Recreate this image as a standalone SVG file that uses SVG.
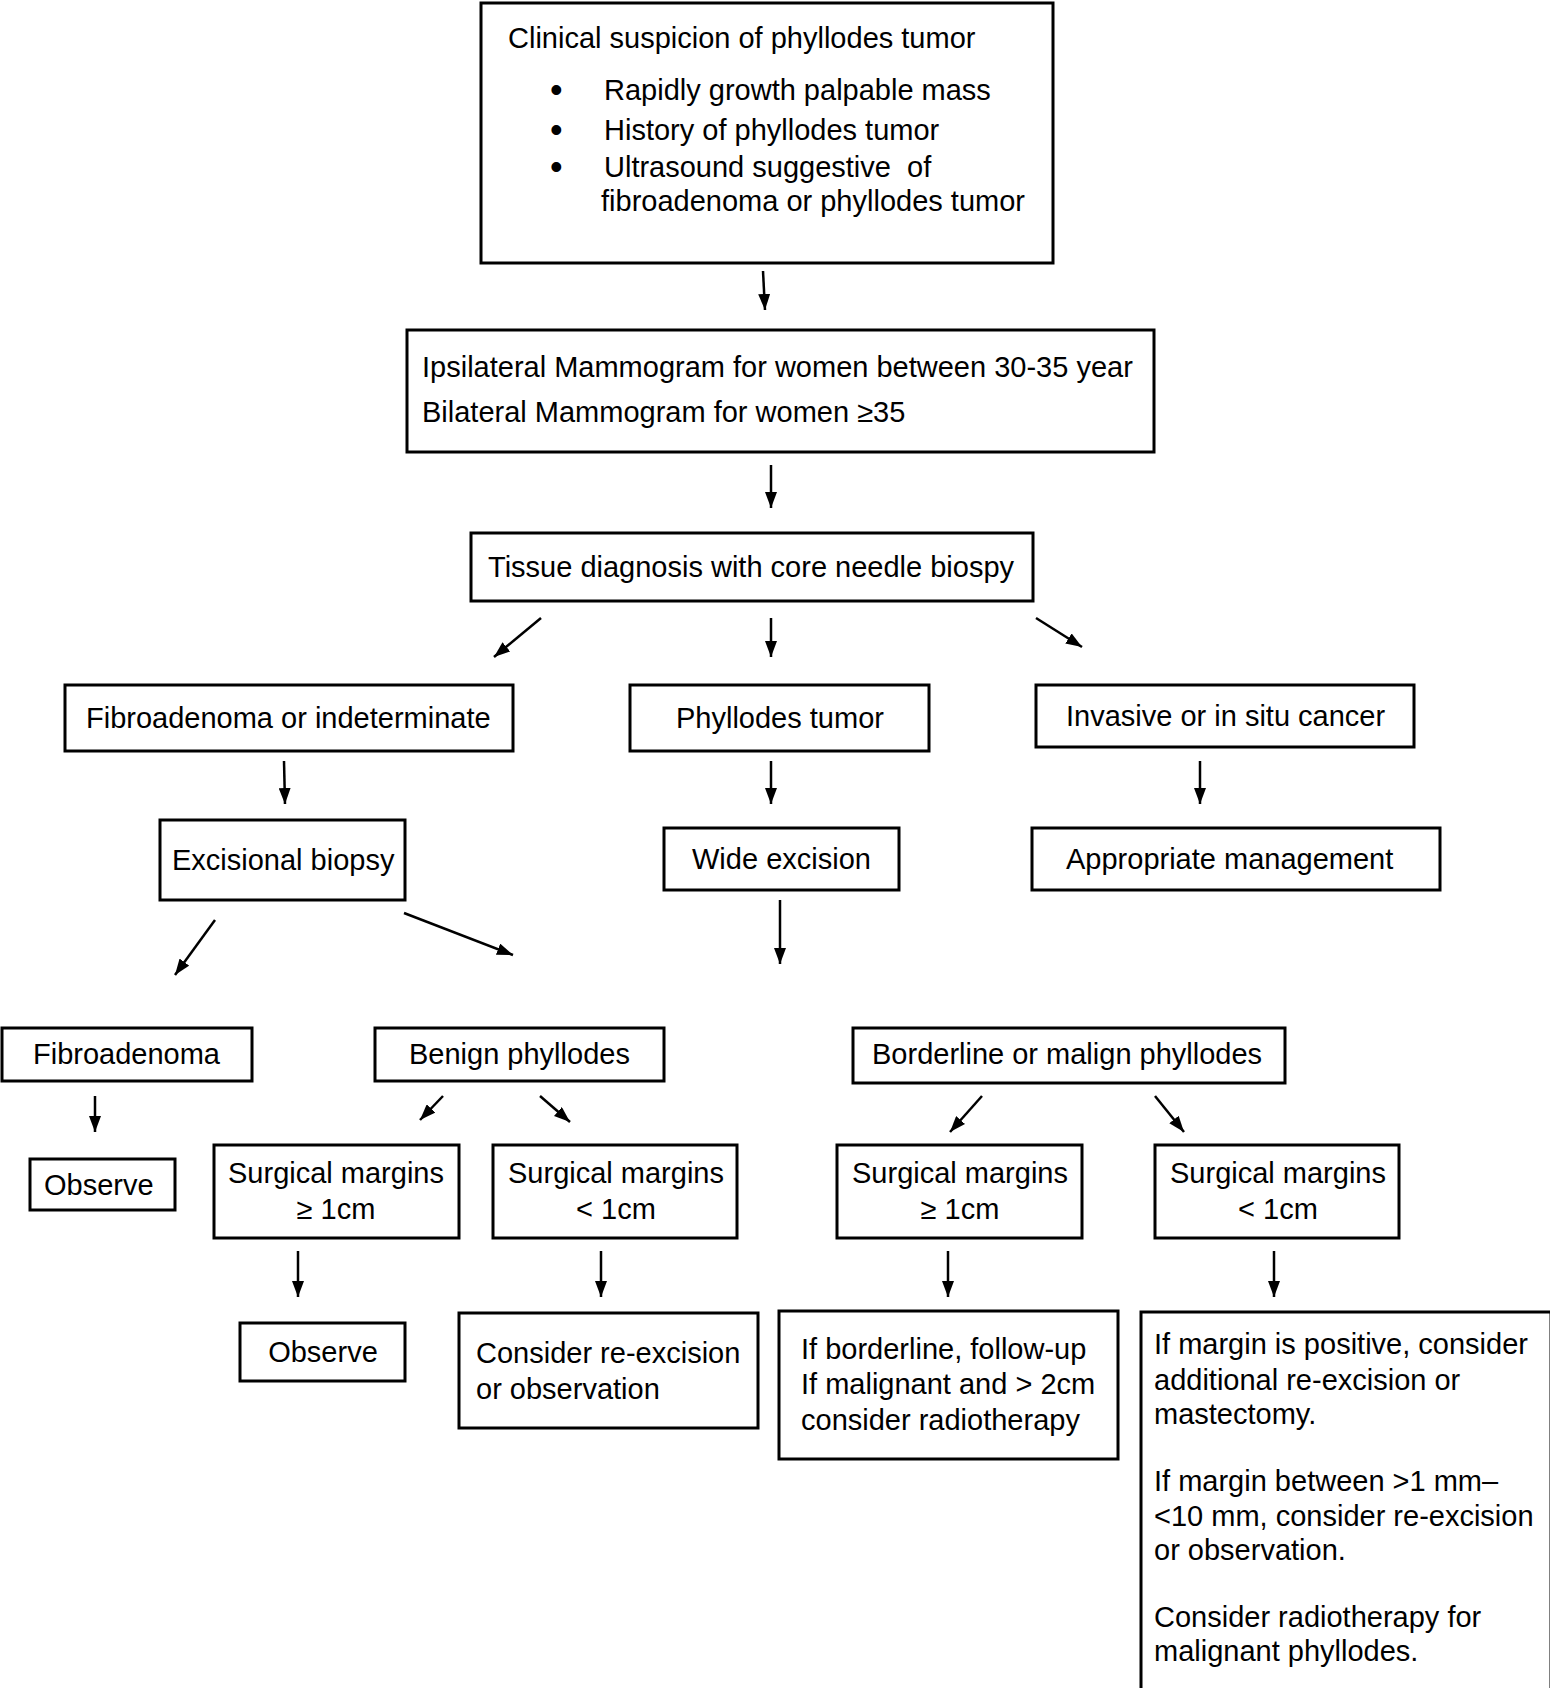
<svg xmlns="http://www.w3.org/2000/svg" width="1550" height="1688" viewBox="0 0 1550 1688">
<defs>
<marker id="ah" viewBox="0 0 16 12" refX="16" refY="6" markerWidth="16" markerHeight="12" markerUnits="userSpaceOnUse" orient="auto">
<path d="M0,0 L16,6 L0,12 Z" fill="#000"/>
</marker>
<style>
.box{fill:#fff;stroke:#000;stroke-width:3}
text{font-family:"Liberation Sans",Arial,Helvetica,sans-serif;font-size:29px;fill:#000}
.c{text-anchor:middle}
.b{font-size:36px}
.conn line{stroke:#000;stroke-width:2.5;marker-end:url(#ah)}
</style>
</defs>
<rect width="1550" height="1688" fill="#fff"/>

<g id="n-clinical">
<rect class="box" x="481" y="3" width="572" height="260"/>
<text x="508" y="48">Clinical suspicion of phyllodes tumor</text>
<text class="b" x="550" y="102">•</text><text x="604" y="100">Rapidly growth palpable mass</text>
<text class="b" x="550" y="142">•</text><text x="604" y="140">History of phyllodes tumor</text>
<text class="b" x="550" y="179">•</text><text x="604" y="177" xml:space="preserve">Ultrasound suggestive  of</text>
<text x="601" y="211">fibroadenoma or phyllodes tumor</text>
</g>

<g id="n-mammogram">
<rect class="box" x="407" y="330" width="747" height="122"/>
<text x="422" y="377">Ipsilateral Mammogram for women between 30-35 year</text>
<text x="422" y="422">Bilateral Mammogram for women ≥35</text>
</g>

<g id="n-tissue">
<rect class="box" x="471" y="533" width="562" height="68"/>
<text x="488" y="577">Tissue diagnosis with core needle biospy</text>
</g>

<g id="n-fibro-indet">
<rect class="box" x="65" y="685" width="448" height="66"/>
<text x="86" y="728">Fibroadenoma or indeterminate</text>
</g>
<g id="n-phyllodes">
<rect class="box" x="630" y="685" width="299" height="66"/>
<text x="676" y="728">Phyllodes tumor</text>
</g>
<g id="n-invasive">
<rect class="box" x="1036" y="685" width="378" height="62"/>
<text x="1066" y="726">Invasive or in situ cancer</text>
</g>

<g id="n-excisional">
<rect class="box" x="160" y="820" width="245" height="80"/>
<text x="172" y="870">Excisional biopsy</text>
</g>
<g id="n-wide">
<rect class="box" x="664" y="828" width="235" height="62"/>
<text x="692" y="869">Wide excision</text>
</g>
<g id="n-appropriate">
<rect class="box" x="1032" y="828" width="408" height="62"/>
<text x="1066" y="869">Appropriate management</text>
</g>

<g id="n-fibroadenoma">
<rect class="box" x="2" y="1028" width="250" height="53"/>
<text x="33" y="1064">Fibroadenoma</text>
</g>
<g id="n-benign">
<rect class="box" x="375" y="1028" width="289" height="53"/>
<text x="409" y="1064">Benign phyllodes</text>
</g>
<g id="n-borderline">
<rect class="box" x="853" y="1028" width="432" height="55"/>
<text x="872" y="1064">Borderline or malign phyllodes</text>
</g>

<g id="n-observe1">
<rect class="box" x="30" y="1159" width="145" height="51"/>
<text x="44" y="1195">Observe</text>
</g>
<g id="n-ben-ge">
<rect class="box" x="214" y="1145" width="245" height="93"/>
<text class="c" x="336" y="1183">Surgical margins</text>
<text class="c" x="336" y="1219">≥ 1cm</text>
</g>
<g id="n-ben-lt">
<rect class="box" x="493" y="1145" width="244" height="93"/>
<text class="c" x="616" y="1183">Surgical margins</text>
<text class="c" x="616" y="1219">&lt; 1cm</text>
</g>
<g id="n-bor-ge">
<rect class="box" x="837" y="1145" width="245" height="93"/>
<text class="c" x="960" y="1183">Surgical margins</text>
<text class="c" x="960" y="1219">≥ 1cm</text>
</g>
<g id="n-bor-lt">
<rect class="box" x="1155" y="1145" width="244" height="93"/>
<text class="c" x="1278" y="1183">Surgical margins</text>
<text class="c" x="1278" y="1219">&lt; 1cm</text>
</g>

<g id="n-observe2">
<rect class="box" x="240" y="1323" width="165" height="58"/>
<text class="c" x="323" y="1362">Observe</text>
</g>
<g id="n-reexcision">
<rect class="box" x="459" y="1313" width="299" height="115"/>
<text x="476" y="1363">Consider re-excision</text>
<text x="476" y="1399">or observation</text>
</g>
<g id="n-ifborder">
<rect class="box" x="779" y="1311" width="339" height="148"/>
<text x="801" y="1359">If borderline, follow-up</text>
<text x="801" y="1394">If malignant and &gt; 2cm</text>
<text x="801" y="1430">consider radiotherapy</text>
</g>
<g id="n-ifmargin">
<rect class="box" x="1141" y="1312" width="410" height="378"/>
<text x="1154" y="1354">If margin is positive, consider</text>
<text x="1154" y="1390">additional re-excision or</text>
<text x="1154" y="1424">mastectomy.</text>
<text x="1154" y="1491">If margin between &gt;1 mm–</text>
<text x="1154" y="1526">&lt;10 mm, consider re-excision</text>
<text x="1154" y="1560">or observation.</text>
<text x="1154" y="1627">Consider radiotherapy for</text>
<text x="1154" y="1661">malignant phyllodes.</text>
</g>

<g id="connectors" class="conn">
<line x1="763" y1="271" x2="765" y2="310"/>
<line x1="771" y1="465" x2="771" y2="508"/>
<line x1="541" y1="618" x2="494" y2="657"/>
<line x1="771" y1="618" x2="771" y2="657"/>
<line x1="1036" y1="618" x2="1082" y2="647"/>
<line x1="284" y1="761" x2="285" y2="804"/>
<line x1="771" y1="761" x2="771" y2="804"/>
<line x1="1200" y1="761" x2="1200" y2="804"/>
<line x1="215" y1="920" x2="175" y2="975"/>
<line x1="404" y1="913" x2="513" y2="955"/>
<line x1="780" y1="900" x2="780" y2="964"/>
<line x1="95" y1="1096" x2="95" y2="1132"/>
<line x1="443" y1="1096" x2="420" y2="1120"/>
<line x1="540" y1="1096" x2="570" y2="1122"/>
<line x1="982" y1="1096" x2="950" y2="1132"/>
<line x1="1155" y1="1096" x2="1184" y2="1132"/>
<line x1="298" y1="1251" x2="298" y2="1297"/>
<line x1="601" y1="1251" x2="601" y2="1297"/>
<line x1="948" y1="1251" x2="948" y2="1297"/>
<line x1="1274" y1="1251" x2="1274" y2="1297"/>
</g>
</svg>
